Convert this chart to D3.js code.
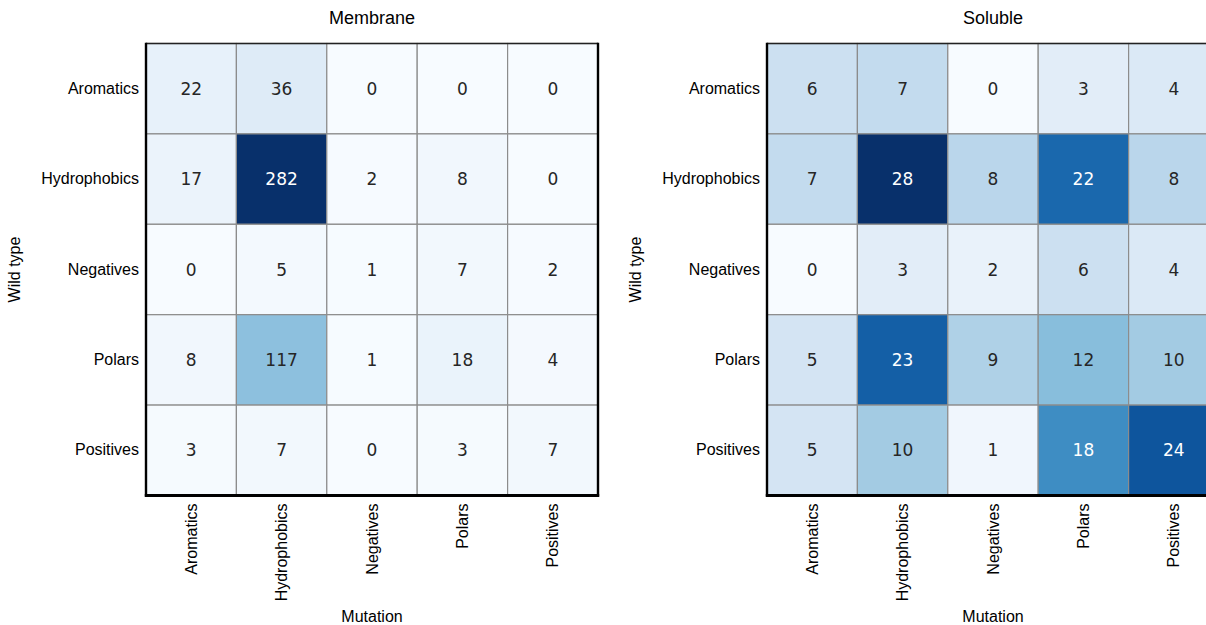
<!DOCTYPE html>
<html>
<head>
<meta charset="utf-8">
<script src="https://cdn.jsdelivr.net/npm/d3@7"></script>
<style>
  html, body { margin: 0; padding: 0; background: #fff; }
  svg { display: block; }
</style>
</head>
<body>
<svg id="chart" width="1206" height="625"></svg>
<script>
// Residue classes (rows = wild type, columns = mutation)
const categories = ["Aromatics", "Hydrophobics", "Negatives", "Polars", "Positives"];

// Mutation counts, one row per wild-type class
const membraneCounts = [
  [22, 36, 0, 0, 0],
  [17, 282, 2, 8, 0],
  [0, 5, 1, 7, 2],
  [8, 117, 1, 18, 4],
  [3, 7, 0, 3, 7]
];
const solubleCounts = [
  [6, 7, 0, 3, 4],
  [7, 28, 8, 22, 8],
  [0, 3, 2, 6, 4],
  [5, 23, 9, 12, 10],
  [5, 10, 1, 18, 24]
];

const panelTitles = ["Membrane", "Soluble"];
const xAxisTitle = "Mutation";
const yAxisTitle = "Wild type";

const svg = d3.select("#chart");
const labelFont = "'Liberation Sans', Arial, Helvetica, sans-serif";
const valueFont = "'DejaVu Sans', Verdana, sans-serif";

function luminance(c) {
  const rgb = d3.rgb(c);
  const lin = v => { v /= 255; return v <= 0.03928 ? v / 12.92 : Math.pow((v + 0.055) / 1.055, 2.4); };
  return 0.2126 * lin(rgb.r) + 0.7152 * lin(rgb.g) + 0.0722 * lin(rgb.b);
}

function drawHeatmap(counts, title, left) {
  const top = 43.5, size = 452;
  const g = svg.append("g").attr("transform", `translate(${left},${top})`);

  const x = d3.scaleBand().domain(categories).range([0, size]);
  const y = d3.scaleBand().domain(categories).range([0, size]);
  const vmax = d3.max(counts.flat());
  const color = d3.scaleSequential(d3.interpolateBlues).domain([0, vmax]);

  const cells = [];
  counts.forEach((row, i) => row.forEach((v, j) => cells.push({ wt: categories[i], mut: categories[j], v })));

  g.selectAll("rect.cell").data(cells).join("rect")
    .attr("class", "cell")
    .attr("x", d => x(d.mut))
    .attr("y", d => y(d.wt))
    .attr("width", x.bandwidth())
    .attr("height", y.bandwidth())
    .attr("fill", d => color(d.v))
    .attr("stroke", "#8c8c8c")
    .attr("stroke-width", 1.2);

  g.selectAll("text.val").data(cells).join("text")
    .attr("class", "val")
    .attr("x", d => x(d.mut) + x.bandwidth() / 2)
    .attr("y", d => y(d.wt) + y.bandwidth() / 2)
    .attr("dy", "0.36em")
    .attr("text-anchor", "middle")
    .style("font-family", valueFont)
    .style("font-size", "17px")
    .attr("fill", d => luminance(color(d.v)) > 0.408 ? "#262626" : "#ffffff")
    .text(d => d.v);

  // frame
  g.append("line").attr("x1", 0).attr("x2", size).attr("y1", 0).attr("y2", 0)
    .attr("stroke", "#222").attr("stroke-width", 1.6);
  g.append("line").attr("x1", 0).attr("x2", 0).attr("y1", -0.8).attr("y2", size + 1)
    .attr("stroke", "#000").attr("stroke-width", 2.4);
  g.append("line").attr("x1", size).attr("x2", size).attr("y1", -0.8).attr("y2", size + 1)
    .attr("stroke", "#000").attr("stroke-width", 2.4);
  g.append("line").attr("x1", -1.2).attr("x2", size + 1.2).attr("y1", size).attr("y2", size)
    .attr("stroke", "#000").attr("stroke-width", 2.8);

  // row labels
  const yAxis = d3.axisLeft(y).tickSize(0).tickPadding(7);
  const ya = g.append("g").call(yAxis);
  ya.select(".domain").remove();
  ya.selectAll("text").style("font-family", labelFont).style("font-size", "16px").attr("fill", "#000");

  // column labels
  const xAxis = d3.axisBottom(x).tickSize(0).tickPadding(0);
  const xa = g.append("g").attr("transform", `translate(0,${size})`).call(xAxis);
  xa.select(".domain").remove();
  xa.selectAll("text")
    .style("font-family", labelFont).style("font-size", "16px").attr("fill", "#000")
    .attr("transform", "rotate(-90)")
    .attr("x", -8).attr("y", 0).attr("dy", "0.35em")
    .attr("text-anchor", "end");

  // titles
  g.append("text")
    .attr("x", size / 2).attr("y", -20)
    .attr("text-anchor", "middle")
    .style("font-family", labelFont).style("font-size", "18px")
    .text(title);
  g.append("text")
    .attr("x", size / 2).attr("y", 578)
    .attr("text-anchor", "middle")
    .style("font-family", labelFont).style("font-size", "16px")
    .text(xAxisTitle);
  g.append("text")
    .attr("transform", `translate(${-126},${size / 2}) rotate(-90)`)
    .attr("text-anchor", "middle")
    .style("font-family", labelFont).style("font-size", "16px")
    .text(yAxisTitle);
}

drawHeatmap(membraneCounts, panelTitles[0], 146);
drawHeatmap(solubleCounts, panelTitles[1], 767);
</script>
</body>
</html>
